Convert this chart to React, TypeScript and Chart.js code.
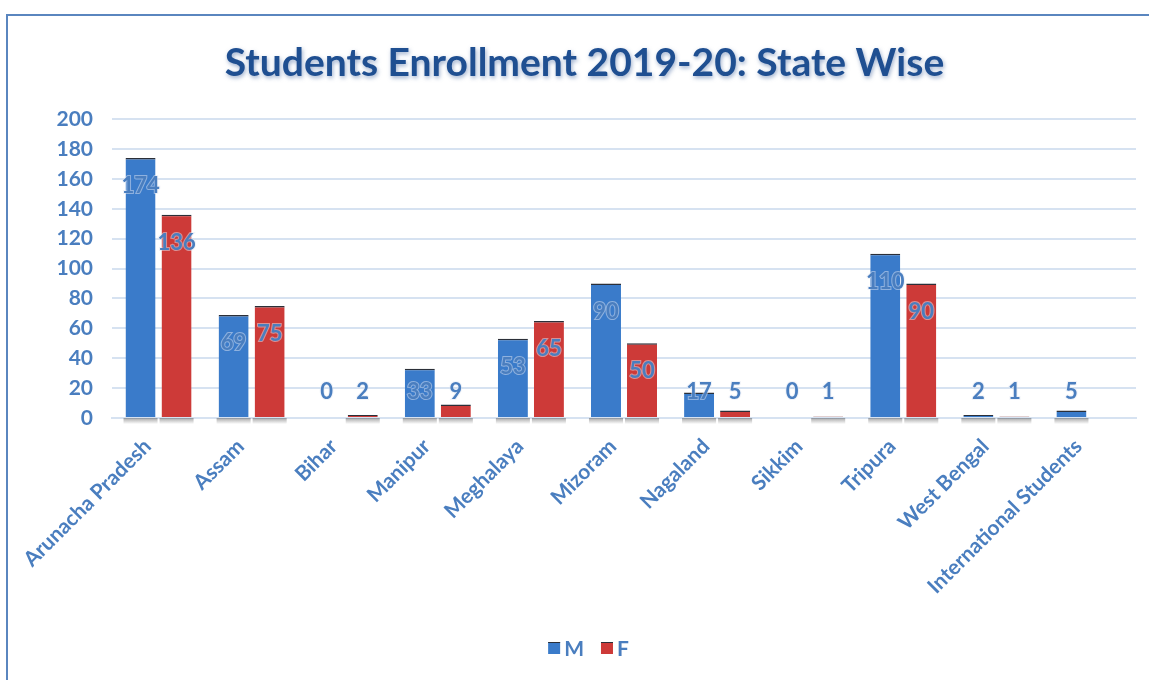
import React, { useEffect, useRef } from "react";
import { Chart, registerables } from "chart.js";

Chart.register(...registerables);

const TITLE = "Students Enrollment 2019-20: State Wise";
const categories = [
  "Arunacha Pradesh",
  "Assam",
  "Bihar",
  "Manipur",
  "Meghalaya",
  "Mizoram",
  "Nagaland",
  "Sikkim",
  "Tripura",
  "West Bengal",
  "International Students",
];
const seriesNames = ["M", "F"];
const maleValues: (number | null)[] = [174, 69, 0, 33, 53, 90, 17, 0, 110, 2, 5];
const femaleValues: (number | null)[] = [136, 75, 2, 9, 65, 50, 5, 1, 90, 1, null];
const yTicks = [0, 20, 40, 60, 80, 100, 120, 140, 160, 180, 200];

const BLUE = "#3a7bca";
const RED = "#cd3a38";
const TEXT = "#4a7ebf";
const FONT = "Lato";

const titlePlugin = {
  id: "customTitle",
  afterDraw(chart: any) {
    const ctx = chart.ctx;
    const tb = chart.titleBlock;
    if (!tb) return;
    ctx.save();
    ctx.font = `bold 39px ${FONT}`;
    ctx.textAlign = "center";
    ctx.textBaseline = "middle";
    ctx.shadowColor = "rgba(90,120,170,0.6)";
    ctx.shadowBlur = 4;
    ctx.shadowOffsetX = 1;
    ctx.shadowOffsetY = 2;
    ctx.fillStyle = "#1f4f91";
    ctx.fillText(TITLE, chart.width / 2 + 6, tb.top + tb.height / 2 - 4);
    ctx.restore();
  },
};

const legendPlugin = {
  id: "customLegend",
  afterDraw(chart: any) {
    const ctx = chart.ctx;
    const cy = chart.height - 32;
    const colors = [BLUE, RED];
    ctx.save();
    ctx.font = `bold 21px ${FONT}`;
    ctx.textBaseline = "middle";
    ctx.textAlign = "left";
    const box = 12;
    const gap = 4;
    const itemGap = 17;
    const widths = seriesNames.map((n) => box + gap + ctx.measureText(n).width);
    const total = widths.reduce((a, b) => a + b, 0) + itemGap * (seriesNames.length - 1);
    let x = chart.width / 2 + 10 - total / 2;
    seriesNames.forEach((n, i) => {
      ctx.fillStyle = colors[i];
      ctx.fillRect(x, cy - box / 2, box, box);
      ctx.fillStyle = "#2b2f38";
      ctx.fillRect(x, cy - box / 2, box, 1);
      ctx.fillStyle = TEXT;
      ctx.fillText(n, x + box + gap, cy + 1);
      x += widths[i] + itemGap;
    });
    ctx.restore();
  },
};

const shadowPlugin = {
  id: "barShadow",
  beforeDatasetsDraw(chart: any) {
    const ctx = chart.ctx;
    const base = chart.scales.y.getPixelForValue(0);
    ctx.save();
    chart.data.datasets.forEach((ds: any, di: number) => {
      const meta = chart.getDatasetMeta(di);
      meta.data.forEach((bar: any, i: number) => {
        const v = ds.data[i];
        if (v == null || v <= 0) return;
        const w = bar.width;
        const g = ctx.createLinearGradient(0, base, 0, base + 6);
        g.addColorStop(0, "rgba(60,60,60,0.45)");
        g.addColorStop(1, "rgba(60,60,60,0)");
        ctx.fillStyle = g;
        ctx.fillRect(bar.x - w / 2 - 2, base, w + 4, 6);
      });
    });
    ctx.restore();
  },
};

const labelPlugin = {
  id: "valueLabels",
  afterDatasetsDraw(chart: any) {
    const ctx = chart.ctx;
    const base = chart.scales.y.getPixelForValue(0);
    ctx.save();
    ctx.font = `bold 22px ${FONT}`;
    ctx.textAlign = "center";
    ctx.textBaseline = "middle";
    chart.data.datasets.forEach((ds: any, di: number) => {
      const meta = chart.getDatasetMeta(di);
      meta.data.forEach((bar: any, i: number) => {
        const v = ds.data[i];
        if (v == null) return;
        const top = chart.scales.y.getPixelForValue(v);
        const y = Math.min(top + 28, base - 26);
        const txt = String(v);
        ctx.lineWidth = 2;
        ctx.strokeStyle = "rgba(225,232,244,0.5)";
        ctx.strokeText(txt, bar.x, y);
        ctx.fillStyle = TEXT;
        ctx.fillText(txt, bar.x, y);
      });
    });
    ctx.restore();
  },
};

export default function App() {
  const ref = useRef<HTMLCanvasElement>(null);
  useEffect(() => {
    if (!ref.current) return;
    const mk = (label: string, data: (number | null)[], color: string) => ({
      label,
      data,
      backgroundColor: color,
      borderColor: "#2b2f38",
      borderWidth: { top: 1.5, left: 0, right: 0, bottom: 0 },
      borderSkipped: false,
      categoryPercentage: 0.774,
      barPercentage: 0.833,
    });
    const chart = new Chart(ref.current, {
      type: "bar",
      data: {
        labels: categories,
        datasets: [mk(seriesNames[0], maleValues, BLUE), mk(seriesNames[1], femaleValues, RED)] as any,
      },
      options: {
        animation: false,
        responsive: false,
        layout: { padding: { left: 0, right: 13, top: 0, bottom: 62 } },
        plugins: {
          title: {
            display: true,
            text: TITLE,
            color: "rgba(0,0,0,0)",
            font: { family: FONT, size: 36, weight: "bold" },
            padding: { top: 24, bottom: 36 },
          },
          legend: { display: false },
          tooltip: { enabled: false },
        },
        scales: {
          x: {
            grid: { display: false, drawTicks: false },
            border: { display: true, color: "#d6e2f1", width: 2 },
            ticks: {
              color: TEXT,
              font: { family: FONT, size: 21, weight: "bold" },
              minRotation: 45,
              maxRotation: 45,
              autoSkip: false,
              padding: 16,
              labelOffset: -11,
            },
            afterFit: (s: any) => {
              s.height = 200;
            },
          },
          y: {
            min: 0,
            max: 200,
            afterBuildTicks: (s: any) => {
              s.ticks = yTicks.map((v) => ({ value: v }));
            },
            grid: { color: "#d6e2f1", lineWidth: 2, drawTicks: false },
            border: { display: false },
            ticks: {
              color: TEXT,
              font: { family: FONT, size: 21, weight: "bold" },
              padding: 19,
            },
            afterFit: (s: any) => {
              s.width = 104;
            },
          },
        },
      } as any,
      plugins: [titlePlugin, shadowPlugin, labelPlugin, legendPlugin],
    });
    return () => chart.destroy();
  }, []);

  return (
    <div
      style={{
        position: "fixed",
        left: 6,
        top: 14,
        width: 1143,
        height: 666,
        borderTop: "2px solid #5a86bf",
        borderLeft: "2px solid #5a86bf",
        boxSizing: "border-box",
        background: "#fff",
      }}
    >
      <canvas ref={ref} width={1141} height={664} style={{ display: "block" }} />
    </div>
  );
}
